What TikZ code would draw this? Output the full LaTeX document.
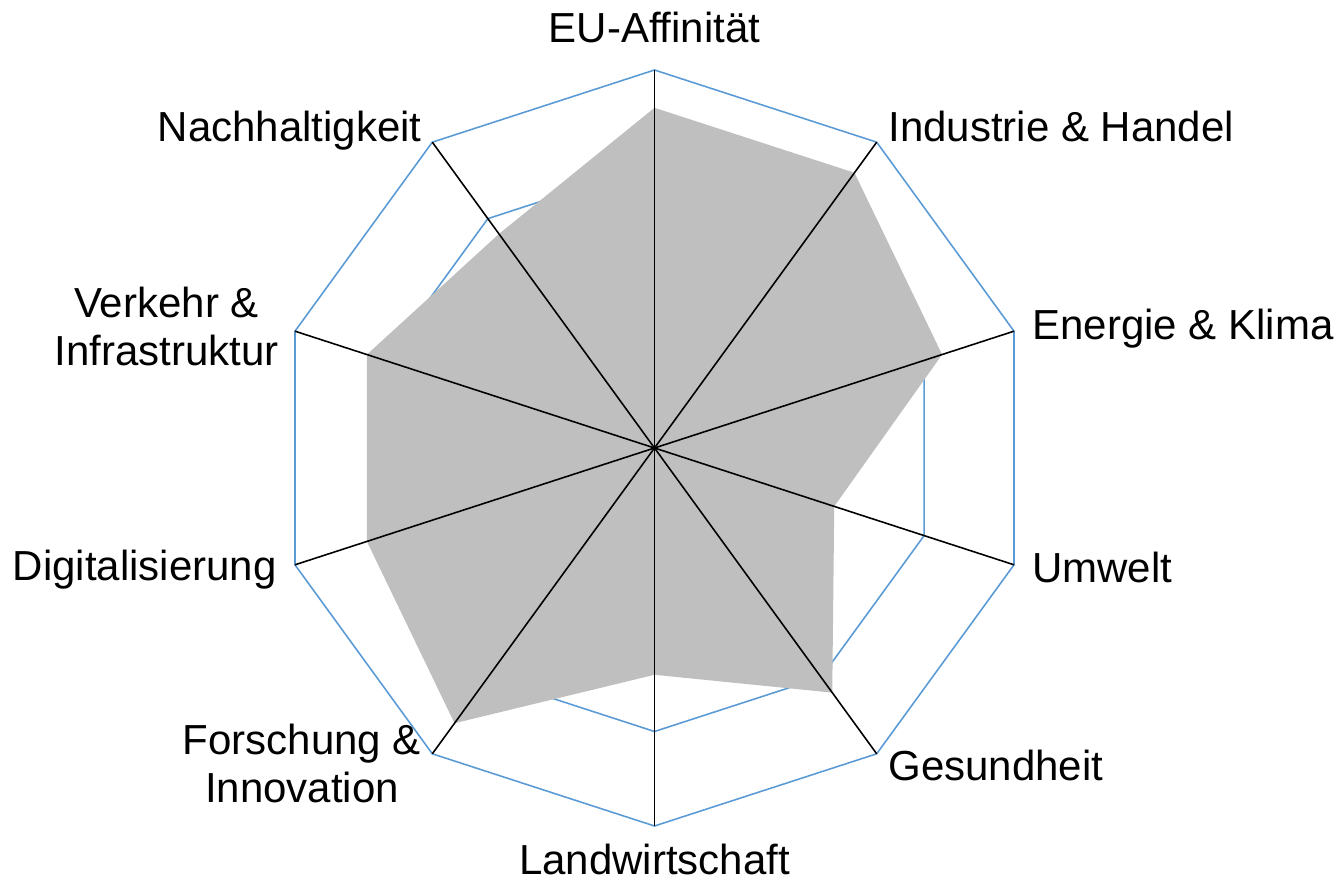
\documentclass[tikz,border=0pt]{standalone}
\usepackage{fontspec}
\setmainfont{Liberation Sans}
\usetikzlibrary{positioning}
\definecolor{ringblue}{HTML}{5B9BD5}
\definecolor{areagray}{HTML}{BFBFBF}
\tikzset{
  lbl/.style={inner sep=0pt,font=\fontsize{23.9pt}{27.3pt}\selectfont},
  ring/.style={ringblue,line width=0.9pt,line join=miter},
  spoke/.style={black,line width=0.9pt}
}
\begin{document}
\begin{tikzpicture}[x=0.02cm,y=0.02cm]
\useasboundingbox (-654.5,-436) rectangle (686.5,448);
\coordinate (c) at (0,0);
% outer ring
\coordinate (o1) at (90:378);
\coordinate (o2) at (54:378);
\coordinate (o3) at (18:378);
\coordinate (o4) at (-18:378);
\coordinate (o5) at (-54:378);
\coordinate (o6) at (-90:378);
\coordinate (o7) at (-126:378);
\coordinate (o8) at (-162:378);
\coordinate (o9) at (162:378);
\coordinate (o10) at (126:378);
% inner ring
\coordinate (m1) at (90:283.5);
\coordinate (m2) at (54:283.5);
\coordinate (m3) at (18:283.5);
\coordinate (m4) at (-18:283.5);
\coordinate (m5) at (-54:283.5);
\coordinate (m6) at (-90:283.5);
\coordinate (m7) at (-126:283.5);
\coordinate (m8) at (-162:283.5);
\coordinate (m9) at (162:283.5);
\coordinate (m10) at (126:283.5);
% values
\coordinate (d1) at (90:340.2);
\coordinate (d2) at (54:340.2);
\coordinate (d3) at (18:302.4);
\coordinate (d4) at (-18:189);
\coordinate (d5) at (-54:302.4);
\coordinate (d6) at (-90:226.8);
\coordinate (d7) at (-126:340.2);
\coordinate (d8) at (-162:302.4);
\coordinate (d9) at (162:302.4);
\coordinate (d10) at (126:264.6);
\draw[ring] (o1) -- (o2) -- (o3) -- (o4) -- (o5) -- (o6) -- (o7) -- (o8) -- (o9) -- (o10) -- cycle;
\draw[ring] (m1) -- (m2) -- (m3) -- (m4) -- (m5) -- (m6) -- (m7) -- (m8) -- (m9) -- (m10) -- cycle;
\fill[areagray] (d1) -- (d2) -- (d3) -- (d4) -- (d5) -- (d6) -- (d7) -- (d8) -- (d9) -- (d10) -- cycle;
\draw[spoke] (c) -- (o1);
\draw[spoke] (c) -- (o2);
\draw[spoke] (c) -- (o3);
\draw[spoke] (c) -- (o4);
\draw[spoke] (c) -- (o5);
\draw[spoke] (c) -- (o6);
\draw[spoke] (c) -- (o7);
\draw[spoke] (c) -- (o8);
\draw[spoke] (c) -- (o9);
\draw[spoke] (c) -- (o10);
% labels
\node[lbl,above=0.54cm of o1] (euaff) {EU-Affinität};
\node[lbl,anchor=base west] (indhan) at (233.5,306) {Industrie \& Handel};
\node[lbl,anchor=base west] (enklima) at (377.5,108) {Energie \& Klima};
\node[lbl,anchor=base west] (umwelt) at (377.5,-135) {Umwelt};
\node[lbl,anchor=base west] (gesund) at (233.5,-333) {Gesundheit};
\node[lbl,below=0.36cm of o6] (landw) {Landwirtschaft};
\node[lbl,align=center,anchor=north] (forinno) at (-352.5,-276) {Forschung \&\\Innovation};
\node[lbl,anchor=base east] (digital) at (-377.5,-133) {Digitalisierung};
\node[lbl,align=center,anchor=north] (verkinf) at (-488,161) {Verkehr \&\\Infrastruktur};
\node[lbl,anchor=base east] (nachh) at (-232.5,306) {Nachhaltigkeit};
\end{tikzpicture}
\end{document}
